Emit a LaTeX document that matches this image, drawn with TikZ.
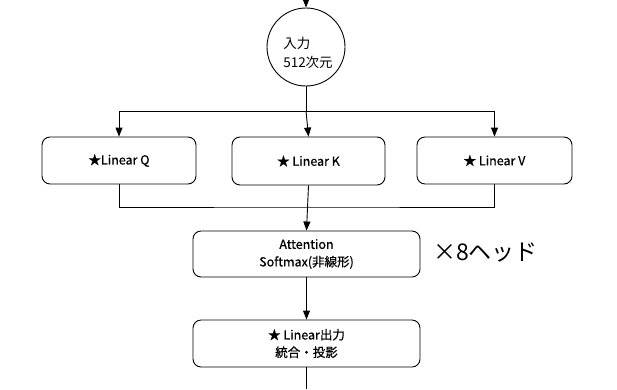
\documentclass[tikz,border=0pt]{standalone}
\usepackage{fontspec}
\setmainfont{Noto Sans CJK JP}
\newfontfamily\boxfont[FakeBold=0.6]{Noto Sans CJK JP}
\usetikzlibrary{arrows.meta}
\tikzset{
  x=1pt,y=-1pt,
  conn/.style={line width=0.9pt,draw=black},
  arr/.style={conn,-{Triangle[length=9pt,width=7pt]}},
  stepbox/.style={draw=black,line width=0.9pt,rounded corners=8pt,inner sep=0pt,
    align=center,font=\boxfont\fontsize{12.5}{17.5}\selectfont},
  inputnode/.style={draw=black,line width=0.9pt,circle,minimum size=78pt,inner sep=0pt},
  inputtext/.style={align=left,inner sep=0pt,font=\fontsize{13.5}{18.5}\selectfont},
}
\begin{document}
\begin{tikzpicture}
\useasboundingbox (0,0) rectangle (617,389);
\node[inputnode] (in) at (306,47) {};
\node[inputtext] (intext) at (308,53) {入力\\512次元};
\node[stepbox,minimum width=154pt,minimum height=47pt] (q) at (119,160.5) {★Linear Q};
\node[stepbox,minimum width=153pt,minimum height=48pt] (k) at (308.5,161) {★ Linear K};
\node[stepbox,minimum width=155pt,minimum height=47pt] (v) at (494.5,160.5) {★ Linear V};
\node[stepbox,minimum width=227pt,minimum height=46pt] (att) at (306.5,254) {Attention\\Softmax(非線形)};
\node[stepbox,minimum width=227pt,minimum height=47pt] (out) at (306.5,343.5) {★ Linear出力\\統合・投影};
\node[anchor=west,inner sep=0pt,font=\fontsize{23}{23}\selectfont] (heads) at (433,252) {×8ヘッド};
\coordinate (top) at (306,0);
\coordinate (j1) at (306,111);
\coordinate (j2) at (306.5,207);
\coordinate (bot) at (306.5,389);
\draw[arr] (top) -- (in.north);
\draw[conn] (in.south) -- (j1);
\draw[arr] (j1) -| (q.north);
\draw[arr] (j1) -| (v.north);
\draw[arr] (j1) -- (k.north);
\draw[conn] (q.south) |- (j2) -| (v.south);
\draw[arr] (k.south) -- (att.north);
\draw[arr] (att.south) -- (out.north);
\draw[conn] (out.south) -- (bot);
\end{tikzpicture}
\end{document}
